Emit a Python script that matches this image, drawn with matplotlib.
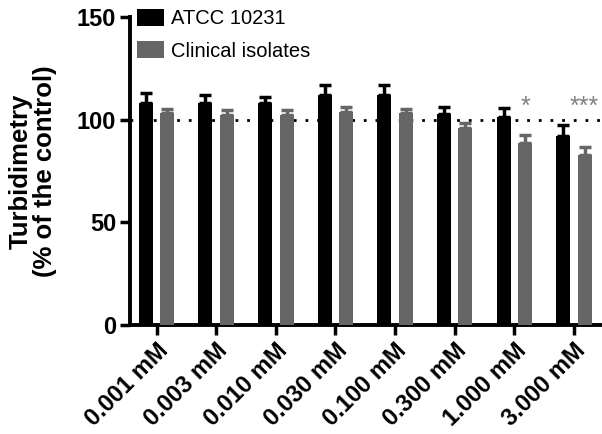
import numpy as np
import matplotlib.pyplot as plt

plt.rcParams['font.family'] = ['Liberation Sans', 'DejaVu Sans']

# data
concentrations = ['0.001 mM', '0.003 mM', '0.010 mM', '0.030 mM',
                  '0.100 mM', '0.300 mM', '1.000 mM', '3.000 mM']
atcc_mean = [108.2, 108.0, 108.0, 112.0, 112.0, 102.6, 101.3, 92.1]
atcc_err = [4.8, 4.0, 3.2, 4.8, 5.0, 3.4, 4.3, 5.5]
clin_mean = [103.0, 102.2, 102.2, 103.7, 103.4, 95.8, 88.4, 82.8]
clin_err = [2.0, 2.3, 2.6, 2.3, 1.9, 2.4, 4.2, 3.7]
signif = ['', '', '', '', '', '', '*', '***']

black = '#000000'
gray = '#666666'

fig = plt.figure(figsize=(6.02, 4.34), dpi=100)
ax = fig.add_axes([0.216, 0.251, 0.781, 0.710])

x = np.arange(len(concentrations))
w = 0.235
off = 0.18

ax.axhline(100, color='black', linestyle=(0, (1, 3.2)), linewidth=2.0, zorder=1)

ax.bar(x - off, atcc_mean, w, color=black, label='ATCC 10231', zorder=3)
ax.bar(x + off, clin_mean, w, color=gray, label='Clinical isolates', zorder=3)
ax.errorbar(x - off, atcc_mean, yerr=[np.zeros(len(x)), atcc_err], fmt='none',
            ecolor=black, elinewidth=2.5, capsize=4.5, capthick=2.5, zorder=4)
ax.errorbar(x + off, clin_mean, yerr=[np.zeros(len(x)), clin_err], fmt='none',
            ecolor=gray, elinewidth=2.5, capsize=4.5, capthick=2.5, zorder=4)

for xi, s in zip(x, signif):
    if s:
        ax.text(xi + off, 100.5, s, ha='center', va='bottom', color='#808080',
                fontsize=18)

ax.set_xlim(-0.445, 7.44)
ax.set_ylim(0, 150)
ax.set_yticks([0, 50, 100, 150])
ax.set_xticks(x)
ax.set_xticklabels(concentrations, rotation=45, ha='right',
                   rotation_mode='anchor', fontsize=17, fontweight='bold')
for lab in ax.get_yticklabels():
    lab.set_fontsize(17)
    lab.set_fontweight('bold')

ax.set_ylabel('Turbidimetry\n(% of the control)', fontsize=18.5,
              fontweight='bold', labelpad=14, linespacing=1.05)

for side in ['top', 'right']:
    ax.spines[side].set_visible(False)
for side in ['left', 'bottom']:
    ax.spines[side].set_linewidth(2.8)
ax.tick_params(axis='both', width=2.5, length=7, pad=3)

ax.legend(loc='upper left', bbox_to_anchor=(-0.01, 1.065), frameon=False,
          fontsize=14.5, handlelength=1.3, handleheight=0.9,
          handletextpad=0.35, labelspacing=0.65, borderaxespad=0.2)

plt.savefig('out.png', dpi=100)
